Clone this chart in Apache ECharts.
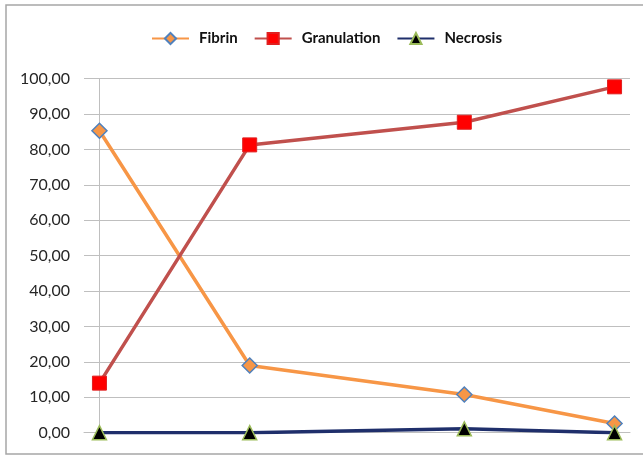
<!DOCTYPE html>
<html>
<head>
<meta charset="utf-8">
<script src="https://cdn.jsdelivr.net/npm/echarts@6/dist/echarts.min.js"></script>
<style>
    html, body { margin: 0; padding: 0; background: #fff; }
    #chart { width: 643px; height: 456px; }
</style>
</head>
<body>
<div id="chart"></div>
<script>
// time points (x positions, axis labels are hidden)
var timePoints = [0, 7, 17, 24];
var fibrin = [85.3, 19.0, 10.8, 2.6];
var granulation = [14.0, 81.3, 87.7, 97.7];
var necrosis = [0, 0, 1.1, 0];
var yTicks = [0, 10, 20, 30, 40, 50, 60, 70, 80, 90, 100];

function pairs(values) {
    return values.map(function (v, i) {
        return [timePoints[i], v];
    });
}

var chart = echarts.init(document.getElementById("chart"));

var option = {
    animation: false,
    textStyle: {
        fontFamily: "Lato, 'Open Sans', sans-serif"
    },
    // chart frame, cut off on the right like the original
    graphic: [{
        type: "polyline",
        shape: { points: [[700, 5], [6, 5], [6, 454], [700, 454]] },
        style: { fill: null, stroke: "#a6a6a6", lineWidth: 1.5 },
        silent: true
    }],
    legend: {
        left: 146,
        top: 26,
        itemWidth: 37,
        itemHeight: 14,
        itemGap: 16,
        textStyle: {
            fontSize: 15,
            fontWeight: "bold",
            color: "#111",
            padding: [0, 0, 0, 5]
        },
        data: ["Fibrin", "Granulation", "Necrosis"]
    },
    grid: {
        left: 84,
        right: 13,
        top: 78.7,
        bottom: 23.3,
        containLabel: false
    },
    xAxis: {
        type: "value",
        min: -0.72,
        max: 24.72,
        axisLine: { show: true, lineStyle: { color: "#bfbfbf", width: 1 } },
        axisTick: { show: false },
        axisLabel: { show: false },
        splitLine: { show: false }
    },
    yAxis: {
        type: "value",
        min: yTicks[0],
        max: yTicks[yTicks.length - 1],
        interval: 10,
        axisLine: { show: true, lineStyle: { color: "#bfbfbf", width: 1 } },
        axisTick: { show: true, inside: false, length: 5, lineStyle: { color: "#bfbfbf" } },
        axisLabel: {
            margin: 14,
            fontSize: 16,
            color: "#262626",
            formatter: function (v) {
                return v.toFixed(2).replace(".", ",");
            }
        },
        splitLine: { show: true, lineStyle: { color: "#bfbfbf", width: 1 } }
    },
    series: [{
        name: "Fibrin",
        type: "line",
        data: pairs(fibrin),
        symbol: "diamond",
        symbolSize: 15,
        lineStyle: { color: "#F79646", width: 3.5 },
        itemStyle: { color: "#F79646", borderColor: "#4F81BD", borderWidth: 1.5 }
    }, {
        name: "Granulation",
        type: "line",
        data: pairs(granulation),
        symbol: "rect",
        symbolSize: 14,
        lineStyle: { color: "#C0504D", width: 3.5 },
        itemStyle: { color: "#FF0000", borderColor: "#E02020", borderWidth: 1 }
    }, {
        name: "Necrosis",
        type: "line",
        data: pairs(necrosis),
        symbol: "triangle",
        symbolSize: 14,
        lineStyle: { color: "#1F2F6B", width: 3.5 },
        itemStyle: { color: "#000000", borderColor: "#9BBB59", borderWidth: 1.5 }
    }]
};

chart.setOption(option);
</script>
</body>
</html>
